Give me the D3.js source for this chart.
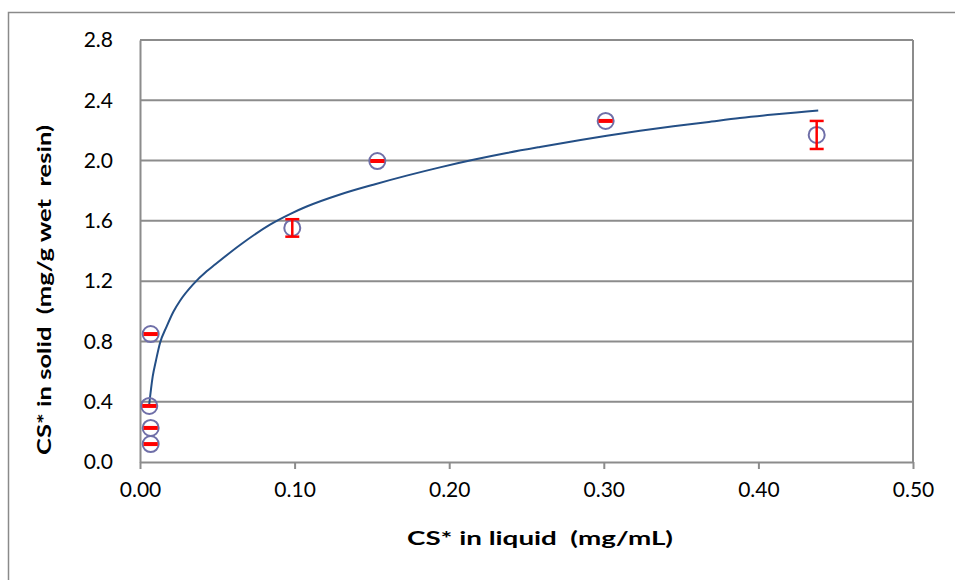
<!DOCTYPE html>
<html>
<head>
<meta charset="utf-8">
<script src="https://cdn.jsdelivr.net/npm/d3@7"></script>
<style>
  html, body { margin: 0; padding: 0; background: #fff; }
  svg { display: block; }
  text { font-family: Lato, "Open Sans", sans-serif; fill: #000; }
</style>
</head>
<body>
<svg id="chart" width="955" height="580"></svg>
<script>
// Measured equilibrium points: liquid concentration (mg/mL), solid loading (mg/g), error (±)
const liquidConc = [0.0069, 0.0060, 0.0069, 0.0069, 0.0985, 0.1535, 0.3012, 0.4377];
const solidLoad  = [0.849, 0.372, 0.226, 0.119, 1.553, 1.997, 2.263, 2.170];
const loadError  = [0.005, 0.005, 0.005, 0.005, 0.058, 0.005, 0.005, 0.093];

// Fitted isotherm curve, traced as (liquid, solid) pairs
const fitLiquid = [0.0058, 0.0082, 0.0104, 0.0129, 0.0172, 0.0216, 0.0259, 0.0345, 0.0431, 0.0485,
                   0.0647, 0.0841, 0.0970, 0.1078, 0.1294, 0.1509, 0.1725, 0.1940, 0.2156, 0.2372,
                   0.2587, 0.2803, 0.3019, 0.3234, 0.3450, 0.3666, 0.3880, 0.4097, 0.4312, 0.4387];
const fitSolid  = [0.367, 0.566, 0.677, 0.788, 0.898, 0.997, 1.070, 1.180, 1.265, 1.310,
                   1.440, 1.575, 1.645, 1.695, 1.775, 1.840, 1.900, 1.955, 2.005, 2.050,
                   2.090, 2.128, 2.165, 2.198, 2.228, 2.255, 2.282, 2.305, 2.325, 2.332];

const xTicks = [0, 0.1, 0.2, 0.3, 0.4, 0.5];
const yTicks = [0, 0.4, 0.8, 1.2, 1.6, 2.0, 2.4, 2.8];

const xTitle = "CS* in liquid  (mg/mL)";
const yTitle = "CS* in solid  (mg/g wet  resin)";

const svg = d3.select("#chart");
const plot = { left: 140, right: 913, top: 40, bottom: 462 };

const x = d3.scaleLinear().domain([0, 0.5]).range([plot.left, plot.right]);
const y = d3.scaleLinear().domain([0, 2.8]).range([plot.bottom, plot.top]);

// Outer chart frame
svg.append("rect")
  .attr("x", 8.5).attr("y", 12.5).attr("width", 960).attr("height", 600)
  .attr("fill", "#fff").attr("stroke", "#8a8a8a").attr("stroke-width", 1.5);

// Horizontal gridlines
svg.append("g")
  .selectAll("line")
  .data(yTicks.filter(d => d > 0))
  .join("line")
  .attr("x1", plot.left).attr("x2", plot.right)
  .attr("y1", d => y(d)).attr("y2", d => y(d))
  .attr("stroke", "#8c8c8c").attr("stroke-width", 2);

// Plot area border (right edge)
svg.append("line")
  .attr("x1", plot.right).attr("x2", plot.right)
  .attr("y1", plot.top).attr("y2", plot.bottom)
  .attr("stroke", "#8c8c8c").attr("stroke-width", 2);

// X axis
const xAxis = d3.axisBottom(x)
  .tickValues(xTicks)
  .tickFormat(d3.format(".2f"))
  .tickSizeInner(7).tickSizeOuter(0).tickPadding(13);
const gx = svg.append("g").attr("transform", `translate(0,${plot.bottom})`).call(xAxis);
gx.select(".domain").attr("stroke", "#8c8c8c").attr("stroke-width", 2);
gx.selectAll(".tick line").attr("stroke", "#8c8c8c").attr("stroke-width", 2);
gx.selectAll(".tick text").attr("font-size", 21).attr("font-family", "Lato, sans-serif");

// Y axis
const yAxis = d3.axisLeft(y)
  .tickValues(yTicks)
  .tickFormat(d3.format(".1f"))
  .tickSizeInner(0).tickSizeOuter(0).tickPadding(27);
const gy = svg.append("g").attr("transform", `translate(${plot.left},0)`).call(yAxis);
gy.select(".domain").attr("stroke", "#8c8c8c").attr("stroke-width", 2);
gy.selectAll(".tick text").attr("font-size", 21).attr("font-family", "Lato, sans-serif");

// Fitted curve
const fitData = fitLiquid.map((c, i) => ({ c, q: fitSolid[i] }));
svg.append("path")
  .datum(fitData)
  .attr("fill", "none")
  .attr("stroke", "#244f86")
  .attr("stroke-width", 2)
  .attr("d", d3.line().x(d => x(d.c)).y(d => y(d.q)).curve(d3.curveMonotoneX));

// Measured points with error bars
const pts = liquidConc.map((c, i) => ({ c, q: solidLoad[i], e: loadError[i] }));
const g = svg.append("g");
const cap = 7;

g.selectAll("circle")
  .data(pts)
  .join("circle")
  .attr("cx", d => x(d.c)).attr("cy", d => y(d.q)).attr("r", 8)
  .attr("fill", "none").attr("stroke", "#6f6fa8").attr("stroke-width", 2);

const eb = g.selectAll("g.err").data(pts).join("g").attr("class", "err")
  .attr("stroke", "#ff0000").attr("stroke-width", 2.5);
eb.append("line")
  .attr("x1", d => x(d.c)).attr("x2", d => x(d.c))
  .attr("y1", d => y(d.q + d.e)).attr("y2", d => y(d.q - d.e));
eb.append("line")
  .attr("x1", d => x(d.c) - cap).attr("x2", d => x(d.c) + cap)
  .attr("y1", d => y(d.q + d.e)).attr("y2", d => y(d.q + d.e));
eb.append("line")
  .attr("x1", d => x(d.c) - cap).attr("x2", d => x(d.c) + cap)
  .attr("y1", d => y(d.q - d.e)).attr("y2", d => y(d.q - d.e));

// Axis titles
svg.append("text")
  .attr("x", 540).attr("y", 545)
  .attr("text-anchor", "middle")
  .attr("font-family", "'Open Sans', sans-serif")
  .attr("font-size", 19).attr("font-weight", "bold")
  .attr("textLength", 266).attr("lengthAdjust", "spacingAndGlyphs")
  .style("white-space", "pre").attr("xml:space", "preserve")
  .text(xTitle);

svg.append("text")
  .attr("transform", "translate(51,290) rotate(-90)")
  .attr("text-anchor", "middle")
  .attr("font-family", "'Open Sans', sans-serif")
  .attr("font-size", 19).attr("font-weight", "bold")
  .attr("textLength", 330).attr("lengthAdjust", "spacingAndGlyphs")
  .style("white-space", "pre").attr("xml:space", "preserve")
  .text(yTitle);
</script>
</body>
</html>
